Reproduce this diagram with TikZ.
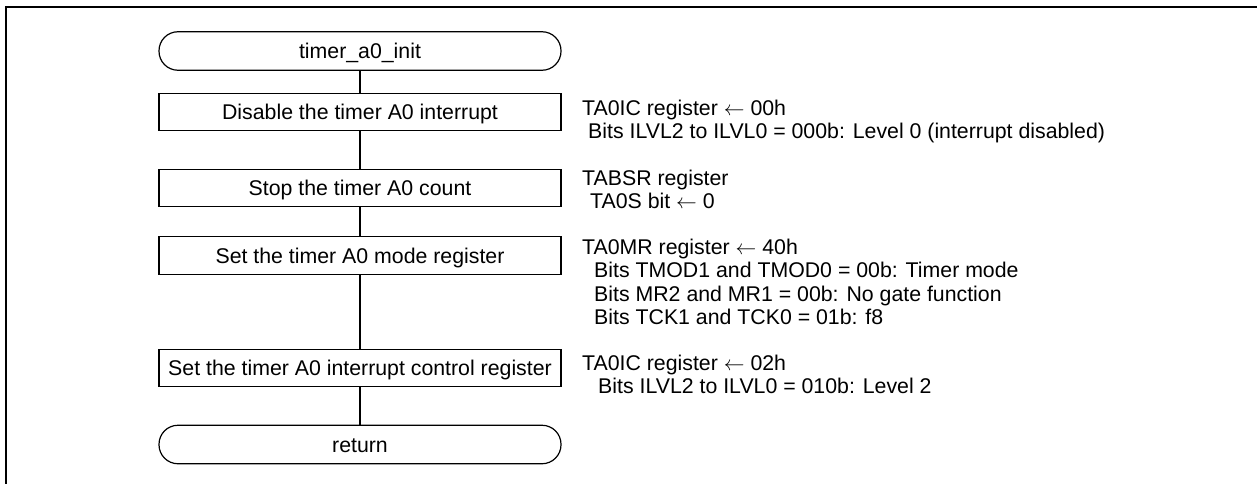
\documentclass[tikz,border=0pt]{standalone}
\usepackage{fontspec}
\setmainfont{Liberation Sans}
\begin{document}
\begin{tikzpicture}[x=1pt,y=-1pt,
  every node/.style={font=\fontsize{21.3}{23.3}\selectfont},
  procbox/.style={draw, line width=1.2pt, minimum width=402pt, minimum height=37.5pt,
                  inner sep=0pt, text height=15.25pt, text depth=0pt},
  termbox/.style={procbox, rounded corners=19pt, minimum height=38.5pt},
  note/.style={anchor=base west, inner sep=0pt},
  link/.style={line width=1.2pt},
  frameline/.style={line width=2.4pt}]
\useasboundingbox (0,0) rectangle (1257,484);

% open frame: top and left edges
\draw[frameline] (6.2,490) -- (6.2,7.2) -- (1262,7.2);

% flowchart column
\node[termbox] (start) at (360,51)    {timer\_a0\_init};
\node[procbox] (p1)    at (360,112)   {Disable the timer A0 interrupt};
\node[procbox] (p2)    at (360,188)   {Stop the timer A0 count};
\node[procbox] (p3)    at (360,255.5) {Set the timer A0 mode register};
\node[procbox] (p4)    at (360,368)   {Set the timer A0 interrupt control register};
\node[termbox] (stop)  at (360,444.5) {return};

\draw[link] (start) -- (p1);
\draw[link] (p1) -- (p2);
\draw[link] (p2) -- (p3);
\draw[link] (p3) -- (p4);
\draw[link] (p4) -- (stop);

% register notes
\node[note] (n1a) at (582,115.5) {TA0IC register $\leftarrow$ 00h};
\node[note] (n1b) at (588,138.8) {Bits ILVL2 to ILVL0 = 000b: Level 0 (interrupt disabled)};

\node[note] (n2a) at (582,185.3) {TABSR register};
\node[note] (n2b) at (590,208.6) {TA0S bit $\leftarrow$ 0};

\node[note] (n3a) at (582,254.6) {TA0MR register $\leftarrow$ 40h};
\node[note] (n3b) at (594,277.9) {Bits TMOD1 and TMOD0 = 00b: Timer mode};
\node[note] (n3c) at (594,301.2) {Bits MR2 and MR1 = 00b: No gate function};
\node[note] (n3d) at (594,324.5) {Bits TCK1 and TCK0 = 01b: f8};

\node[note] (n4a) at (582,370.6) {TA0IC register $\leftarrow$ 02h};
\node[note] (n4b) at (598,393.9) {Bits ILVL2 to ILVL0 = 010b: Level 2};
\end{tikzpicture}
\end{document}
